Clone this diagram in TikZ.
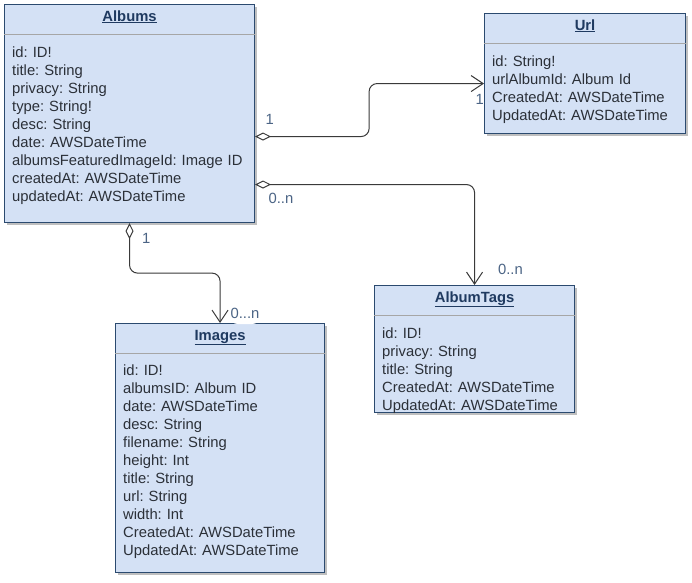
\documentclass[tikz,border=0pt]{standalone}
\usepackage{fontspec}
\setmainfont{Liberation Sans}
\frenchspacing
\definecolor{boxfill} {HTML}{D4E1F5}
\definecolor{boxline} {HTML}{2B4A6F}
\definecolor{titleink}{HTML}{1F3A60}
\definecolor{ink}     {HTML}{2B3038}
\definecolor{multink} {HTML}{4B6485}
\definecolor{wire}    {HTML}{3A3A3A}
\definecolor{rulegray}{HTML}{A6A6A6}
\usetikzlibrary{positioning,calc,arrows.meta,shadows}
\tikzset{
  classbox/.style={draw=boxline,line width=1.1pt,fill=boxfill,anchor=north west,
                   inner sep=0pt,drop shadow={shadow xshift=2.5pt,shadow yshift=-2.5pt,
                   fill=black,opacity=.25}},
  classname/.style={anchor=base,inner sep=0pt,text=titleink,
                    font=\bfseries\fontsize{14.8}{18}\selectfont},
  attrs/.style={anchor=base west,inner sep=0pt,text width=#1,align=left,
                text=ink,font=\fontsize{14.8}{18}\selectfont},
  attrs/.default=190pt,
  divider/.style={draw=rulegray,line width=0.9pt},
  assoc/.style={draw=wire,line width=1pt,rounded corners=8pt,
                arrows={Diamond[open,length=16pt,width=8pt]-Straight Barb[length=12pt,width=16pt]}},
  mult/.style={anchor=base west,inner sep=0pt,text=multink,
               font=\fontsize{14.8}{18}\selectfont}
}
\begin{document}
\begin{tikzpicture}[x=1pt,y=-1pt]
  \useasboundingbox[fill=white] (0,0) rectangle (692,582);

  \node[classbox,minimum width=250pt,minimum height=218pt] (albums) at (4,4) {};
  \node[classbox,minimum width=201pt,minimum height=120pt] (url) at (484,13) {};
  \node[classbox,minimum width=209pt,minimum height=249pt] (images) at (115,323) {};
  \node[classbox,minimum width=200pt,minimum height=127pt] (tags) at (374,285) {};

  \foreach \cls/\clsname in {albums/Albums,url/Url,images/Images,tags/AlbumTags} {
    \node[classname] (\cls-name) at ([yshift=-17pt]\cls.north) {\underline{\clsname}};
    \draw[divider] ([yshift=-30pt]\cls.north west) -- ([yshift=-30pt]\cls.north east);
  }

  \node[attrs=240pt] (albums-attrs) at ([xshift=8pt,yshift=-53pt]albums.north west)
    {id: ID!\\title: String\\privacy: String\\type: String!\\desc: String\\
     date: AWSDateTime\\albumsFeaturedImageId: Image ID\\createdAt: AWSDateTime\\
     updatedAt: AWSDateTime};
  \node[attrs] (url-attrs) at ([xshift=8pt,yshift=-53pt]url.north west)
    {id: String!\\urlAlbumId: Album Id\\CreatedAt: AWSDateTime\\UpdatedAt: AWSDateTime};
  \node[attrs] (images-attrs) at ([xshift=8pt,yshift=-52pt]images.north west)
    {id: ID!\\albumsID: Album ID\\date: AWSDateTime\\desc: String\\filename: String\\
     height: Int\\title: String\\url: String\\width: Int\\CreatedAt: AWSDateTime\\
     UpdatedAt: AWSDateTime};
  \node[attrs] (tags-attrs) at ([xshift=8pt,yshift=-53pt]tags.north west)
    {id: ID!\\privacy: String\\title: String\\CreatedAt: AWSDateTime\\UpdatedAt: AWSDateTime};

  \draw[assoc] ([yshift=-23pt]albums.east)
      node[mult,xshift=10pt,yshift=12pt] (url-from) {1}
    -- ++(114,0) |- ([yshift=-10pt]url.west)
      node[mult,xshift=-9pt,yshift=-21pt] (url-to) {1};
  \draw[assoc] ([yshift=-71pt]albums.east)
      node[mult,xshift=13pt,yshift=-19pt] (tags-from) {0..n}
    -| (tags.north)
      node[mult,xshift=23pt,yshift=11pt] (tags-to) {0..n};
  \draw[assoc] (albums.south)
      node[mult,xshift=12pt,yshift=-20pt] (images-from) {1}
    -- ++(0,50) -| (images.north)
      node[mult,xshift=9pt,yshift=5pt,fill=white,inner xsep=1pt,text depth=6pt] (images-to) {0...n};
\end{tikzpicture}
\end{document}
